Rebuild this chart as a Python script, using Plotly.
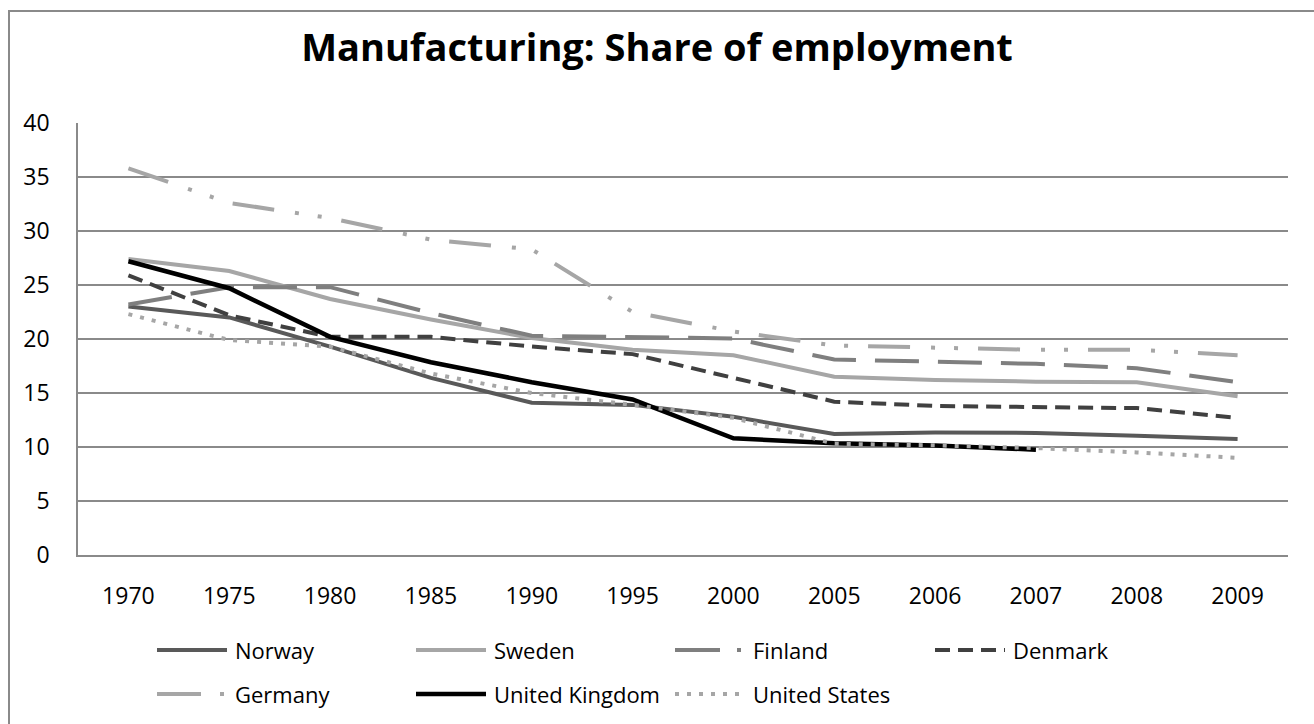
import plotly.graph_objects as go

years = ["1970", "1975", "1980", "1985", "1990", "1995", "2000", "2005", "2006", "2007", "2008", "2009"]
norway = [23.0, 22.0, 19.3, 16.4, 14.1, 13.9, 12.8, 11.2, 11.35, 11.3, 11.05, 10.75]
sweden = [27.4, 26.3, 23.7, 21.8, 20.1, 19.0, 18.5, 16.5, 16.2, 16.05, 16.0, 14.7]
finland = [23.2, 24.8, 24.8, 22.4, 20.3, 20.2, 20.05, 18.1, 17.9, 17.7, 17.3, 16.0]
denmark = [25.9, 22.2, 20.2, 20.2, 19.3, 18.6, 16.4, 14.2, 13.8, 13.7, 13.6, 12.7]
germany = [35.8, 32.6, 31.2, 29.2, 28.3, 22.5, 20.7, 19.4, 19.2, 19.0, 19.0, 18.5]
uk = [27.2, 24.7, 20.2, 17.85, 16.0, 14.4, 10.8, 10.35, 10.15, 9.75, None, None]
us = [22.3, 19.9, 19.3, 16.8, 15.0, 13.9, 12.7, 10.3, 10.15, 9.9, 9.5, 9.0]

series_names = ["Norway", "Sweden", "Finland", "Denmark", "Germany", "United Kingdom", "United States"]
series_values = [norway, sweden, finland, denmark, germany, uk, us]
colors = ["#595959", "#a6a6a6", "#7f7f7f", "#404040", "#a6a6a6", "#000000", "#a6a6a6"]
dashes = ["solid", "solid", "44px,19px", "15px,8px", "42px,21px,4px,19px,4px,20px", "solid", "4px,8px"]
legend_dashes = ["solid", "solid", "45px,17px,4px,12px", "15px,8px", "44px,19px,4px,20px", "solid", "4px,8px"]
widths = [4, 4, 4, 4, 4, 4.5, 4]

W, H = 1314, 724
ML, MR, MT, MB = 78, 26, 123, 169
PW, PH = W - ML - MR, H - MT - MB
FONT = "Open Sans"

fig = go.Figure()
for name, vals, c, d, w in zip(series_names, series_values, colors, dashes, widths):
    fig.add_trace(go.Scatter(x=years, y=vals, name=name, mode="lines",
                             line=dict(color=c, width=w, dash=d),
                             connectgaps=False, showlegend=False))

def px_x(p):
    return (p - ML) / PW

def px_y(p):
    return (H - MB - p) / PH

# custom legend (Excel-like long line samples)
col_x = [157, 416, 675, 935]
row_y = [650, 694]
shapes = []
annotations = []
for i, (name, c, d, w) in enumerate(zip(series_names, colors, legend_dashes, widths)):
    r, k = divmod(i, 4)
    x0 = col_x[k]
    y = row_y[r]
    shapes.append(dict(type="line", xref="paper", yref="paper",
                       x0=px_x(x0), x1=px_x(x0 + 70), y0=px_y(y), y1=px_y(y),
                       line=dict(color=c, width=w, dash=d)))
    annotations.append(dict(text=name, xref="paper", yref="paper",
                            x=px_x(x0 + 76), y=px_y(y), xanchor="left", yanchor="middle",
                            showarrow=False, font=dict(family=FONT, size=22, color="#000000")))

# outer chart border
shapes.append(dict(type="rect", xref="paper", yref="paper",
                   x0=px_x(9), x1=px_x(1330), y0=px_y(11), y1=px_y(740),
                   line=dict(color="#8a8a8a", width=2), fillcolor="rgba(0,0,0,0)", layer="below"))

fig.update_layout(
    width=W, height=H,
    margin=dict(l=ML, r=MR, t=MT, b=MB, autoexpand=False),
    paper_bgcolor="white", plot_bgcolor="white",
    title=dict(text="<b>Manufacturing: Share of employment</b>", x=0.5, xanchor="center",
               y=1 - 48 / H, yanchor="middle", yref="container",
               font=dict(family=FONT, size=38, color="#000000")),
    font=dict(family=FONT, size=22, color="#000000"),
    showlegend=False,
    shapes=shapes,
    annotations=annotations,
    xaxis=dict(type="category", categoryorder="array", categoryarray=years,
               range=[-0.5, len(years) - 0.5], showgrid=False, zeroline=False,
               showline=True, linecolor="#8a8a8a", linewidth=1.5,
               ticks="", ticklabelstandoff=20, tickfont=dict(family=FONT, size=23)),
    yaxis=dict(range=[0, 40], dtick=5, tick0=0, showgrid=True, gridcolor="#8a8a8a", gridwidth=1.5,
               zeroline=False, showline=True, linecolor="#8a8a8a", linewidth=1.5,
               ticks="", ticklabelstandoff=22, tickfont=dict(family=FONT, size=23)),
)

fig.write_html("out.html", config={"displayModeBar": False},
               post_script="document.body.style.margin='0';document.body.style.overflow='hidden';")
